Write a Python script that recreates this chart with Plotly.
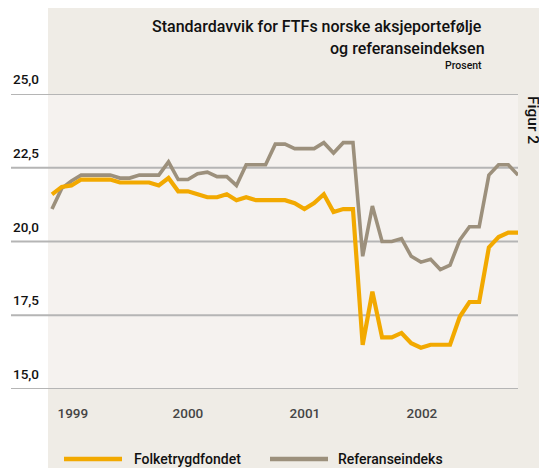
import plotly.graph_objects as go

folketrygdfondet = [21.6, 21.85, 21.9, 22.1, 22.1, 22.1, 22.1, 22.0, 22.0, 22.0, 22.0, 21.9, 22.15,
                    21.7, 21.7, 21.6, 21.5, 21.5, 21.6, 21.4, 21.5, 21.4, 21.4, 21.4, 21.4,
                    21.3, 21.1, 21.3, 21.6, 21.0, 21.1, 21.1, 16.5, 18.3, 16.75, 16.75, 16.9,
                    16.55, 16.4, 16.5, 16.5, 16.5, 17.45, 17.95, 17.95, 19.8, 20.15, 20.3, 20.3]
referanseindeks = [21.1, 21.8, 22.05, 22.25, 22.25, 22.25, 22.25, 22.15, 22.15, 22.25, 22.25, 22.25, 22.7,
                   22.1, 22.1, 22.3, 22.35, 22.2, 22.2, 21.9, 22.6, 22.6, 22.6, 23.3, 23.3,
                   23.15, 23.15, 23.15, 23.35, 23.0, 23.35, 23.35, 19.5, 21.2, 20.0, 20.0, 20.1,
                   19.5, 19.3, 19.4, 19.05, 19.2, 20.05, 20.5, 20.5, 22.25, 22.6, 22.6, 22.25]
months = list(range(len(folketrygdfondet)))
year_tick_pos = [2.15, 14.0, 26.05, 38.1]
year_labels = ["1999", "2000", "2001", "2002"]
y_ticks = [15.0, 17.5, 20.0, 22.5, 25.0]
y_tick_labels = ["15,0", "17,5", "20,0", "22,5", "25,0"]
series_names = ["Folketrygdfondet", "Referanseindeks"]

ORANGE = "#f2a900"
GREY = "#9c907c"
BEIGE = "#efece6"
LIGHT = "#f5f2ef"
GRID = "#b5b5b5"
FONT = "Roboto"
WT = 500

# page has an 8px body margin: figure starts at (8, 8) of the window
OFF = 8
WIN_W, WIN_H = 547, 468
W, H = WIN_W - OFF, WIN_H - OFF
L, R, T, B = 11, 518, 94, 389  # plot area in window pixels


def px(x):
    return (x - L) / (R - L)


def py(y):
    return (B - y) / (B - T)


fig = go.Figure()
fig.add_trace(go.Scatter(x=months, y=referanseindeks, mode="lines", name=series_names[1],
                         line=dict(color=GREY, width=3.6), showlegend=False))
fig.add_trace(go.Scatter(x=months, y=folketrygdfondet, mode="lines", name=series_names[0],
                         line=dict(color=ORANGE, width=4.2), showlegend=False))

shapes = [
    dict(type="rect", xref="paper", yref="paper", x0=px(48), x1=px(WIN_W + 5), y0=py(OFF), y1=py(WIN_H + 5),
         fillcolor=BEIGE, line=dict(width=0), layer="below"),
    dict(type="rect", xref="paper", yref="paper", x0=px(48), x1=px(518), y0=py(94), y1=py(389),
         fillcolor=LIGHT, line=dict(width=0), layer="below"),
]
for v in y_ticks:
    shapes.append(dict(type="line", xref="paper", yref="y", x0=0, x1=1, y0=v, y1=v,
                       line=dict(color=GRID, width=2.2), layer="below"))

# legend drawn by hand to match the long line samples
shapes.append(dict(type="line", xref="paper", yref="paper", x0=px(64), x1=px(122), y0=py(459), y1=py(459),
                   line=dict(color=ORANGE, width=4.5)))
shapes.append(dict(type="line", xref="paper", yref="paper", x0=px(270), x1=px(328), y0=py(459), y1=py(459),
                   line=dict(color=GREY, width=4.5)))


def f(size, color="#111111"):
    return dict(family=FONT, size=size, color=color, weight=WT)


annotations = []
for v, lab in zip(y_ticks, y_tick_labels):
    annotations.append(dict(x=px(11), y=v, xref="paper", yref="y", text=lab, showarrow=False,
                            xanchor="left", yanchor="middle", yshift=15, font=f(13.5)))
annotations += [
    dict(x=px(484), y=py(26), xref="paper", yref="paper", text="Standardavvik for FTFs norske aksjeportefølje",
         showarrow=False, xanchor="right", yanchor="middle", font=f(16)),
    dict(x=px(487), y=py(49), xref="paper", yref="paper", text="og referanseindeksen",
         showarrow=False, xanchor="right", yanchor="middle", font=f(16)),
    dict(x=px(484), y=py(66), xref="paper", yref="paper", text="Prosent",
         showarrow=False, xanchor="right", yanchor="middle", font=f(10.5)),
    dict(x=px(533), y=py(120), xref="paper", yref="paper", text="Figur 2", textangle=90,
         showarrow=False, xanchor="center", yanchor="middle", font=f(15.5)),
    dict(x=px(132), y=py(459), xref="paper", yref="paper", text=series_names[0],
         showarrow=False, xanchor="left", yanchor="middle", font=f(14)),
    dict(x=px(336), y=py(459), xref="paper", yref="paper", text=series_names[1],
         showarrow=False, xanchor="left", yanchor="middle", font=f(14)),
]

x0 = -(52 - L) / ((R - 52) / (len(months) - 1))
fig.update_layout(
    width=W, height=H,
    margin=dict(l=L - OFF, r=WIN_W - R, t=T - OFF, b=WIN_H - B, pad=0),
    paper_bgcolor="white",
    plot_bgcolor="rgba(0,0,0,0)",
    shapes=shapes,
    annotations=annotations,
    showlegend=False,
    xaxis=dict(range=[x0, len(months) - 1], showgrid=False, zeroline=False, showline=False,
               tickmode="array", tickvals=year_tick_pos, ticktext=year_labels,
               ticks="outside", ticklen=12, tickcolor="rgba(0,0,0,0)",
               tickfont=f(13.5, "#454545")),
    yaxis=dict(range=[15, 25], showgrid=False, zeroline=False, showline=False,
               showticklabels=False, ticks=""),
)

fig.write_html("out.html")
